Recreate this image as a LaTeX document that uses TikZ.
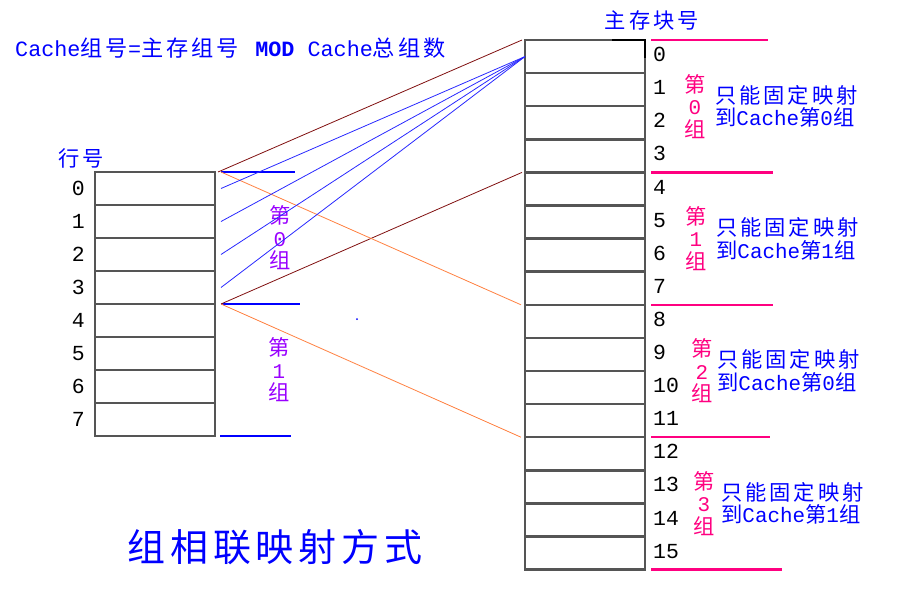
\documentclass[tikz,border=0pt]{standalone}
\usepackage{fontspec}
\setmainfont{Liberation Mono}[Scale=1.1]
\newfontfamily\cjk{Noto Sans CJK SC}[Scale=1.12, LetterSpace=14]
\newfontfamily\cjktitle{Noto Sans CJK SC}[LetterSpace=13]
\usepackage{xcolor}
\usepackage{tikz}
\usetikzlibrary{positioning}

\definecolor{cellgray}{RGB}{85,85,85}
\definecolor{fanblue}{RGB}{40,40,255}
\definecolor{linebrown}{RGB}{128,16,16}
\definecolor{lineorange}{RGB}{255,128,64}
\definecolor{grpmagenta}{RGB}{255,0,128}
\definecolor{grpviolet}{RGB}{153,0,255}
\definecolor{txtblue}{RGB}{0,0,255}

\tikzset{
    cell/.style={draw=cellgray, line width=2.5pt, minimum width=120pt, inner sep=0pt, outer sep=0pt},
    rowno/.style={inner sep=0pt, font=\fontsize{19.5}{22}\selectfont},
    lbl/.style={inner sep=0pt, text=txtblue, font=\fontsize{19}{22.5}\selectfont},
    grplbl/.style={inner sep=0pt, align=center, font=\fontsize{19}{22.5}\selectfont},
    fanline/.style={draw=fanblue, line width=0.8pt},
    sepline/.style={line width=2.4pt},
}

\begin{document}
\begin{tikzpicture}[x=1pt, y=-1pt]
    \useasboundingbox (0,0) rectangle (900,592);
    % cache rows
    \foreach \i in {0,...,7}{
        \node[cell, minimum height=33pt] (c\i) at (155,{188.5+33*\i}) {};
        \node[rowno, left=10pt of c\i] {\i};
    }
    % main memory rows
    \foreach \i in {0,...,15}{
        \node[cell, minimum height=33.1pt] (m\i) at (585,{56.55+33.1*\i}) {};
        \node[rowno, anchor=west] at ([xshift=8pt,yshift=2pt]m\i.east) {\i};
    }
    \draw[line width=2pt] ([xshift=-33pt]m0.north east) -- (m0.north east) -- ([yshift=-18pt]m0.north east);

    % titles
    \node[lbl, anchor=west, font=\fontsize{19.8}{22.5}\selectfont] (formula) at (15,48) {Cache{\cjk 组号}={\cjk 主存组号} \textbf{MOD} Cache{\cjk 总组数}};
    \node[lbl] (memhead) at (652,20) {\cjk 主存块号};
    \node[lbl] (cachehead) at (81,158) {\cjk 行号};
    \node[inner sep=0pt, text=txtblue, font=\cjktitle\fontsize{38}{40}\selectfont] (title) at (275,547) {组相联映射方式};

    % group separators
    \draw[sepline, draw=txtblue] ([xshift=6pt]c0.north east) -- +(74pt,0);
    \draw[sepline, draw=txtblue] ([xshift=6pt]c4.north east) -- +(79pt,0);
    \draw[sepline, draw=txtblue] ([xshift=5pt]c7.south east) -- +(71pt,0);
    \foreach \a/\l in {m0.north east/117, m4.north east/122, m8.north east/122, m12.north east/119, m15.south east/131}
        \draw[sepline, draw=grpmagenta] ([xshift=6pt]\a) -- +(\l pt,0);

    % group labels
    \node[grplbl, text=grpviolet] (cg0) at ([xshift=65pt]c1.south east) {{\cjk 第}\\0\\{\cjk 组}};
    \node[grplbl, text=grpviolet] (cg1) at ([xshift=64pt]c5.south east) {{\cjk 第}\\1\\{\cjk 组}};
    \foreach \k/\dx/\tx/\c in {0/50/70/0, 1/51/71/1, 2/57/72/0, 3/59/76/1}{
        \pgfmathtruncatemacro\r{4*\k+1}
        \node[grplbl, text=grpmagenta] (mg\k) at ([xshift=\dx pt]m\r.south east) {{\cjk 第}\\\k\\{\cjk 组}};
        \node[lbl, align=left, anchor=west] (note\k) at ([xshift=\tx pt]m\r.south east) {{\cjk 只能固定映射}\\{\cjk 到}Cache{\cjk 第}\c{\cjk 组}};
    }

    % mapping lines
    \draw[linebrown, line width=0.8pt] ([xshift=3pt]c0.north east) -- ([xshift=-3pt]m0.north west);
    \draw[linebrown, line width=0.8pt] ([xshift=6pt]c4.north east) -- ([xshift=-3pt]m4.north west);
    \draw[lineorange, line width=0.8pt] ([xshift=6pt]c0.north east) -- ([xshift=-4pt]m8.north west);
    \draw[lineorange, line width=0.8pt] ([xshift=6pt]c4.north east) -- ([xshift=-4pt]m12.north west);
    \foreach \i in {0,...,3}
        \draw[fanline] ([xshift=6pt]c\i.east) -- (m0.west);
    \fill[txtblue] (357,319) circle (1pt);
\end{tikzpicture}
\end{document}
